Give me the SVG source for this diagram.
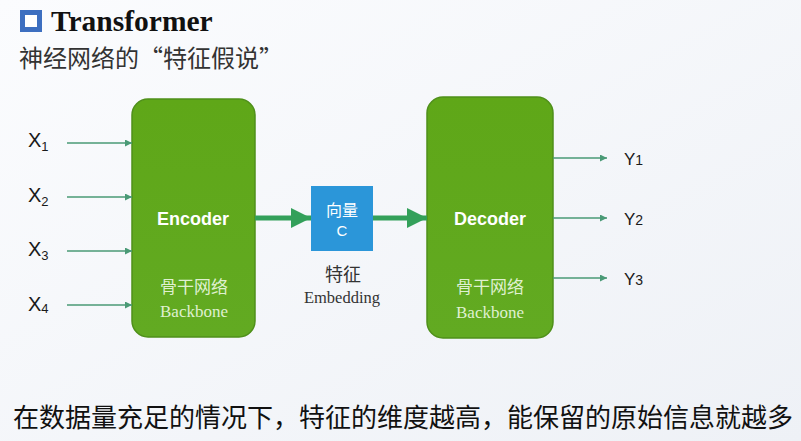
<svg xmlns="http://www.w3.org/2000/svg" width="801" height="441" viewBox="0 0 801 441">
  <defs>
    <linearGradient id="bg" x1="0" y1="0" x2="1" y2="1">
      <stop offset="0" stop-color="#fbfcfe"/>
      <stop offset="1" stop-color="#eef1f6"/>
    </linearGradient>
    <linearGradient id="green" x1="0" y1="0" x2="0" y2="1">
      <stop offset="0" stop-color="#5fa718"/>
      <stop offset="1" stop-color="#62aa22"/>
    </linearGradient>
    <marker id="thin" viewBox="0 0 10 10" refX="10" refY="5" markerWidth="7" markerHeight="7" markerUnits="userSpaceOnUse" orient="auto">
      <path d="M0,0 L10,5 L0,10 z" fill="#4a9a76"/>
    </marker>
    <marker id="thick" viewBox="0 0 10 10" refX="10" refY="5" markerWidth="20" markerHeight="20" markerUnits="userSpaceOnUse" orient="auto">
      <path d="M0,0 L10,5 L0,10 z" fill="#33a05a"/>
    </marker>
  </defs>
  <style>
    .sans { font-family: "Liberation Sans", Arial, sans-serif; }
    .serif { font-family: "Liberation Serif", "Times New Roman", serif; }
    .cjk { font-family: "Noto Sans CJK SC", sans-serif; }
    .box { fill: url(#green); stroke: #4f901a; stroke-width: 1.5; }
    .lbl { font-family: "Liberation Sans", Arial, sans-serif; fill: #1a1a1a; }
    .thin { stroke: #4a9a76; stroke-width: 1.5; fill: none; marker-end: url(#thin); }
    .thick { stroke: #33a05a; stroke-width: 5; fill: none; marker-end: url(#thick); }
    .wt { fill: #ffffff; }
    .soft { fill: #dff0d0; }
  </style>
  <rect width="801" height="441" fill="url(#bg)"/>

  <g id="title">
    <rect x="22.5" y="12.5" width="17" height="17" fill="#ffffff" stroke="#3d6fc0" stroke-width="5"/>
    <text x="51" y="31" class="serif" font-size="29.5" font-weight="bold" fill="#111">Transformer</text>
    <text x="19" y="67" class="cjk" font-size="24" fill="#333">神经网络的“特征假说”</text>
  </g>

  <g id="inputs">
    <text x="28" y="147" class="lbl" font-size="20">X<tspan font-size="13" dy="4">1</tspan></text>
    <text x="28" y="202" class="lbl" font-size="20">X<tspan font-size="13" dy="4">2</tspan></text>
    <text x="28" y="256" class="lbl" font-size="20">X<tspan font-size="13" dy="4">3</tspan></text>
    <text x="28" y="311" class="lbl" font-size="20">X<tspan font-size="13" dy="2">4</tspan></text>
  </g>

  <g id="encoder">
    <rect x="132" y="99" width="123" height="238" rx="16" class="box"/>
    <text x="193" y="225" class="sans wt" font-size="18" font-weight="bold" text-anchor="middle">Encoder</text>
    <text x="194" y="293" class="cjk soft" font-size="17" text-anchor="middle">骨干网络</text>
    <text x="194" y="317" class="serif soft" font-size="17" text-anchor="middle">Backbone</text>
  </g>

  <g id="vector">
    <rect x="311" y="186" width="62" height="65" fill="#2b96d9"/>
    <text x="342" y="216" class="cjk wt" font-size="16" text-anchor="middle">向量</text>
    <text x="342" y="236" class="sans wt" font-size="15" text-anchor="middle">C</text>
    <text x="343" y="281" class="cjk" font-size="18" fill="#333" text-anchor="middle">特征</text>
    <text x="342" y="303" class="serif" font-size="16.5" fill="#333" text-anchor="middle">Embedding</text>
  </g>

  <g id="decoder">
    <rect x="427" y="97" width="126" height="241" rx="16" class="box"/>
    <text x="490" y="225" class="sans wt" font-size="18" font-weight="bold" text-anchor="middle">Decoder</text>
    <text x="490" y="293" class="cjk soft" font-size="17" text-anchor="middle">骨干网络</text>
    <text x="490" y="318" class="serif soft" font-size="17" text-anchor="middle">Backbone</text>
  </g>

  <g id="outputs">
    <text x="624" y="165" class="lbl" font-size="17">Y<tspan font-size="14">1</tspan></text>
    <text x="624" y="225" class="lbl" font-size="17">Y<tspan font-size="14">2</tspan></text>
    <text x="624" y="285" class="lbl" font-size="17">Y<tspan font-size="14">3</tspan></text>
  </g>

  <g id="connectors">
    <line x1="67" y1="143" x2="132" y2="143" class="thin"/>
    <line x1="67" y1="197" x2="132" y2="197" class="thin"/>
    <line x1="67" y1="251" x2="132" y2="251" class="thin"/>
    <line x1="67" y1="305" x2="132" y2="305" class="thin"/>
    <line x1="255" y1="218" x2="311" y2="218" class="thick"/>
    <line x1="373" y1="218" x2="427" y2="218" class="thick"/>
    <line x1="553" y1="158" x2="607" y2="158" class="thin"/>
    <line x1="553" y1="218" x2="607" y2="218" class="thin"/>
    <line x1="553" y1="278" x2="607" y2="278" class="thin"/>
  </g>

  <g id="footer">
    <text x="13" y="427" class="cjk" font-size="26" fill="#111" textLength="780" lengthAdjust="spacing">在数据量充足的情况下，特征的维度越高，能保留的原始信息就越多</text>
  </g>
</svg>
